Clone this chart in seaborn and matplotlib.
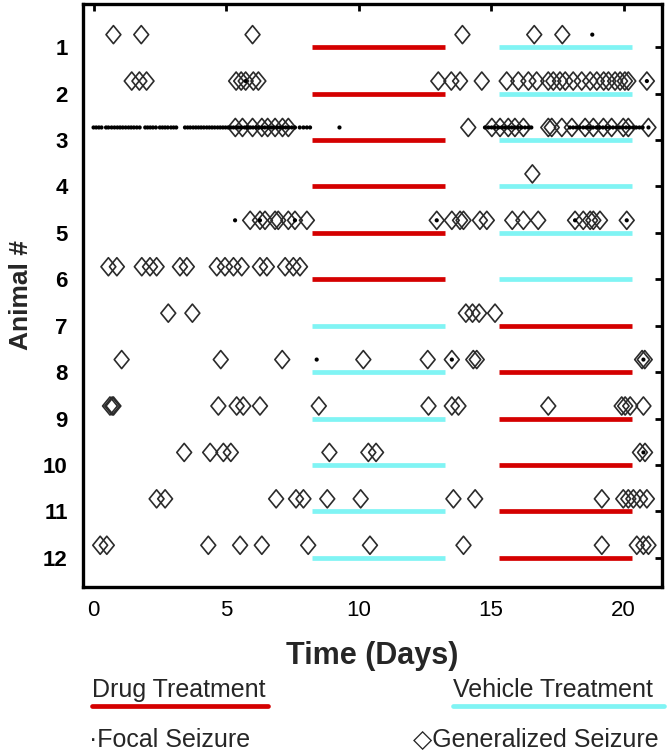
import numpy as np
import pandas as pd
import seaborn as sns
import matplotlib.pyplot as plt
from matplotlib.lines import Line2D
from matplotlib.path import Path

# generalized seizures (days) per animal
gen_a1 = [0.75, 1.8, 6.0, 13.92, 16.63, 17.69]
gen_a2 = [1.44, 1.73, 2.0, 5.38, 5.57, 5.74, 6.03, 6.22, 13.01, 13.5, 13.83, 14.65, 15.59, 16.03,
          16.41, 16.72, 17.16, 17.35, 17.6, 17.8, 18.1, 18.42, 18.74, 18.99, 19.25, 19.43, 19.68,
          19.87, 20.05, 20.18, 20.88]
gen_a3 = [5.35, 5.62, 6.0, 6.35, 6.57, 6.85, 7.13, 7.35, 14.14, 15.03, 15.34, 15.65, 15.9, 16.22,
          17.16, 17.29, 17.67, 18.05, 18.55, 18.86, 19.24, 19.55, 19.99, 20.18, 20.94]
gen_a4 = [16.56]
gen_a5 = [5.91, 6.28, 6.47, 6.85, 6.97, 7.35, 7.6, 8.05, 12.95, 13.52, 13.83, 13.96, 14.58, 14.84,
          15.8, 16.22, 16.78, 18.17, 18.48, 18.74, 18.86, 19.11, 20.12]
gen_a6 = [0.56, 0.88, 1.82, 2.13, 2.38, 3.26, 3.52, 4.65, 4.96, 5.28, 5.59, 6.28, 6.54, 7.23, 7.54, 7.79]
gen_a7 = [2.82, 3.73, 14.05, 14.3, 14.55, 15.15]
gen_a8 = [1.06, 4.8, 7.12, 10.18, 12.61, 13.52, 14.33, 14.46, 20.7, 20.8]
gen_a9 = [0.62, 0.7, 0.75, 4.71, 5.4, 5.65, 6.28, 8.5, 12.64, 13.52, 13.77, 17.16, 19.93, 20.06,
          20.25, 20.75]
gen_a10 = [3.42, 4.4, 4.9, 5.18, 8.9, 10.37, 10.66, 20.62, 20.81]
gen_a11 = [2.38, 2.7, 6.89, 7.64, 7.92, 8.82, 10.08, 13.58, 14.4, 19.18, 19.99, 20.18, 20.37,
           20.62, 20.88]
gen_a12 = [0.25, 0.5, 4.33, 5.53, 6.35, 8.1, 10.43, 13.96, 19.18, 20.5, 20.75, 20.94]

# focal seizures (days)
focal_a1 = [18.82]
focal_a2 = [5.74, 20.88]
focal_a3 = [0.0, 0.1, 0.2, 0.3, 0.47, 0.56, 0.68, 0.79, 0.9, 1.0, 1.1, 1.21, 1.32, 1.42, 1.52,
            1.63, 1.74, 1.95, 2.04, 2.14, 2.24, 2.35, 2.5, 2.6, 2.7, 2.8, 2.92, 3.02, 3.12,
            3.45, 3.55, 3.65, 3.76, 3.86, 3.96, 4.06, 4.16, 4.27, 4.37, 4.47, 4.57, 4.68, 4.78,
            4.88, 4.98, 5.08, 5.18, 5.28, 5.38, 5.48, 5.58, 5.7, 5.8, 5.92, 6.02, 6.14, 6.25,
            6.36, 6.46, 6.58, 6.7, 6.8, 6.92, 7.02, 7.14, 7.25, 7.36, 7.48, 7.6, 7.78, 7.92,
            8.05, 8.17, 9.28,
            14.77, 14.9, 15.02, 15.15, 15.28, 15.4, 15.52, 15.65, 15.78, 15.9, 16.02, 16.15,
            16.28, 16.4, 16.52, 17.98, 18.1, 18.22, 18.35, 18.48, 18.6, 18.72, 18.85, 18.98,
            19.1, 19.22, 19.35, 19.48, 19.6, 19.72, 19.85, 19.98, 20.1, 20.22, 20.35, 20.48,
            20.6, 20.72, 20.94]
focal_a5 = [5.34, 6.28, 7.6, 12.95, 18.17, 20.12]
focal_a8 = [8.42, 13.52, 20.75]
focal_a10 = [20.75]

gen_lists = [gen_a1, gen_a2, gen_a3, gen_a4, gen_a5, gen_a6, gen_a7, gen_a8, gen_a9, gen_a10, gen_a11, gen_a12]
focal_lists = {1: focal_a1, 2: focal_a2, 3: focal_a3, 5: focal_a5, 8: focal_a8, 10: focal_a10}

# treatment periods
animals = list(range(1, 13))
period1 = (8.25, 13.25)
period2 = (15.3, 20.3)
first_treatment = ['Drug'] * 6 + ['Vehicle'] * 6

drug_color = '#d40000'
vehicle_color = '#80f4f4'
marker_color = '#2b2b2b'

# build tables
gen_df = pd.DataFrame([(a, d) for a, days in zip(animals, gen_lists) for d in days], columns=['animal', 'day'])
focal_df = pd.DataFrame([(a, d) for a, days in focal_lists.items() for d in days], columns=['animal', 'day'])
gen_df['y'] = gen_df['animal'] - 0.27
focal_df['y'] = focal_df['animal'] - 0.27

sns.set_style('white')
plt.rcParams['font.family'] = ['Liberation Sans', 'DejaVu Sans']

fig = plt.figure(figsize=(6.69, 7.53), dpi=100)
ax = fig.add_axes([0.124, 0.2204, 0.8655, 0.7743])

# treatment bars
for a, first in zip(animals, first_treatment):
    c1 = drug_color if first == 'Drug' else vehicle_color
    c2 = vehicle_color if first == 'Drug' else drug_color
    ax.hlines(a, period1[0], period1[1], color=c1, lw=3.4, zorder=1)
    ax.hlines(a, period2[0], period2[1], color=c2, lw=3.4, zorder=1)

diamond = Path([(0, 1), (0.82, 0), (0, -1), (-0.82, 0), (0, 1)],
               [Path.MOVETO, Path.LINETO, Path.LINETO, Path.LINETO, Path.CLOSEPOLY])

sns.scatterplot(data=gen_df, x='day', y='y', marker=diamond, s=13 ** 2, ax=ax, zorder=3, legend=False)
coll = ax.collections[-1]
coll.set_facecolor('none')
coll.set_edgecolor(marker_color)
coll.set_linewidth(1.2)

sns.scatterplot(data=focal_df, x='day', y='y', marker='o', s=9, color='black',
                edgecolor='none', ax=ax, zorder=4, legend=False)

ax.set_xlim(-0.4, 21.45)
ax.set_ylim(12.63, 0.07)
ax.set_xticks([0, 5, 10, 15, 20])
ax.set_yticks(animals)
ax.tick_params(direction='in', length=5, width=2, top=True, right=True, colors='black')
ax.tick_params(axis='x', labelsize=16, pad=9)
ax.tick_params(axis='y', labelsize=16, pad=11)
for lab in ax.get_yticklabels():
    lab.set_fontweight('bold')
for sp in ax.spines.values():
    sp.set_linewidth(2.4)
    sp.set_color('black')

ax.set_xlabel('Time (Days)', fontsize=22, fontweight='bold')
ax.xaxis.set_label_coords(0.5, -0.092)
ax.set_ylabel('Animal #', fontsize=19, fontweight='bold')
ax.yaxis.set_label_coords(-0.087, 0.5)

# legend below the axes
fig.text(0.1375, 0.0837, 'Drug Treatment', fontsize=18, va='center', ha='left')
fig.add_artist(Line2D([0.1375, 0.4006], [0.0624, 0.0624], color=drug_color, lw=3.4))
fig.text(0.677, 0.0837, 'Vehicle Treatment', fontsize=18, va='center', ha='left')
fig.add_artist(Line2D([0.677, 0.9925], [0.0624, 0.0624], color=vehicle_color, lw=3.4))
fig.text(0.133, 0.0173, '\u00b7Focal Seizure', fontsize=18, va='center', ha='left')
fig.text(0.618, 0.0173, '\u25c7Generalized Seizure', fontsize=18, va='center', ha='left')

fig.savefig('out.png', dpi=100)
